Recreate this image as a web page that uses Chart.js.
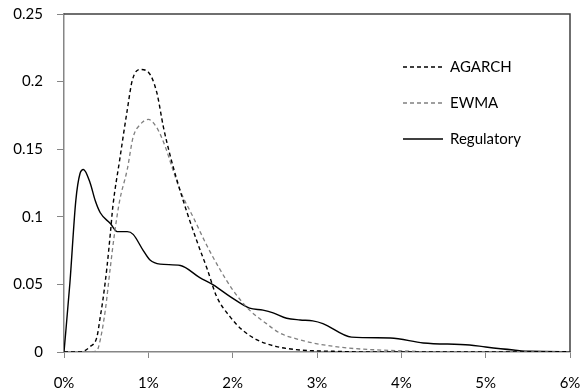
<!DOCTYPE html>
<html>
<head>
<meta charset="utf-8">
<script src="https://cdn.jsdelivr.net/npm/chart.js@4.4.1/dist/chart.umd.min.js"></script>
<style>
  html, body { margin:0; padding:0; background:#fff; }
  #wrap { position:relative; width:583px; height:392px; }
</style>
</head>
<body>
<div id="wrap"><canvas id="ch"></canvas></div>
<script>
// ── data (x in %, y = density) ─────────────────────────────────────────────
const agarchX = [0, 0.19, 0.31, 0.39, 0.43, 0.46, 0.51, 0.55, 0.58, 0.66, 0.75, 0.81, 0.90, 1.0, 1.10, 1.18, 1.26, 1.34, 1.46, 1.57, 1.70, 1.81, 1.97, 2.12, 2.29, 2.52, 2.8, 3.2, 3.6, 6.0];
const agarchY = [0, 0, 0.004, 0.011, 0.026, 0.038, 0.063, 0.088, 0.108, 0.142, 0.179, 0.201, 0.209, 0.207, 0.192, 0.166, 0.145, 0.127, 0.103, 0.083, 0.061, 0.041, 0.026, 0.016, 0.009, 0.004, 0.0015, 0.0005, 0, 0];

const ewmaX = [0, 0.3, 0.39, 0.43, 0.49, 0.55, 0.60, 0.66, 0.75, 0.82, 0.90, 1.0, 1.10, 1.20, 1.29, 1.38, 1.53, 1.70, 1.85, 2.0, 2.2, 2.4, 2.56, 2.8, 2.95, 3.36, 3.95, 4.5, 6.0];
const ewmaY = [0, 0, 0.001, 0.009, 0.031, 0.063, 0.088, 0.112, 0.135, 0.159, 0.168, 0.172, 0.166, 0.152, 0.135, 0.119, 0.100, 0.078, 0.061, 0.046, 0.031, 0.021, 0.014, 0.009, 0.0067, 0.003, 0.001, 0, 0];

const regX = [0, 0.07, 0.14, 0.19, 0.23, 0.31, 0.37, 0.43, 0.55, 0.63, 0.75, 0.82, 0.94, 1.02, 1.14, 1.38, 1.61, 1.77, 1.97, 2.2, 2.36, 2.48, 2.64, 2.8, 2.95, 3.07, 3.41, 3.87, 4.26, 4.81, 5.0, 5.33, 5.53, 6.0];
const regY = [0, 0.051, 0.112, 0.132, 0.135, 0.125, 0.112, 0.103, 0.095, 0.089, 0.089, 0.087, 0.075, 0.068, 0.065, 0.064, 0.055, 0.0496, 0.041, 0.0325, 0.031, 0.029, 0.025, 0.0237, 0.023, 0.021, 0.011, 0.0104, 0.0067, 0.0052, 0.0037, 0.0015, 0.0005, 0.0003];

const seriesNames = ['AGARCH', 'EWMA', 'Regulatory'];
const xTickLabels = ['0%', '1%', '2%', '3%', '4%', '5%', '6%'];
const yTickLabels = ['0', '0.05', '0.1', '0.15', '0.2', '0.25'];

const pts = (xs, ys) => xs.map((x, i) => ({ x, y: ys[i] }));
const FONT = { family: 'Lato, "Open Sans", sans-serif', size: 15 };

// frame on top / right + legend inside plot
const framePlugin = {
  id: 'frame',
  afterDraw(chart) {
    const { ctx, chartArea: a } = chart;
    ctx.save();
    ctx.strokeStyle = '#404040';
    ctx.lineWidth = 1.5;
    ctx.beginPath();
    ctx.moveTo(a.left, a.top); ctx.lineTo(a.right, a.top); ctx.lineTo(a.right, a.bottom);
    ctx.stroke();

    const rows = [67, 103, 139];
    chart.data.datasets.forEach((ds, i) => {
      const y = rows[i];
      ctx.strokeStyle = ds.borderColor;
      ctx.lineWidth = ds.borderWidth;
      ctx.setLineDash(ds.borderDash || []);
      ctx.beginPath(); ctx.moveTo(403, y); ctx.lineTo(443, y); ctx.stroke();
      ctx.setLineDash([]);
      ctx.fillStyle = '#000';
      ctx.font = FONT.size + 'px ' + FONT.family;
      ctx.textBaseline = 'middle';
      ctx.fillText(ds.label, 450, y);
    });
    ctx.restore();
  }
};

new Chart(document.getElementById('ch'), {
  type: 'line',
  data: {
    datasets: [
      { label: seriesNames[0], data: pts(agarchX, agarchY), borderColor: '#000', borderWidth: 1.4, borderDash: [4, 3] },
      { label: seriesNames[1], data: pts(ewmaX, ewmaY), borderColor: '#808080', borderWidth: 1.3, borderDash: [4, 3] },
      { label: seriesNames[2], data: pts(regX, regY), borderColor: '#000', borderWidth: 1.4 },
    ]
  },
  options: {
    responsive: true, maintainAspectRatio: false, animation: false,
    layout: { padding: { top: 14, right: 13, left: 0, bottom: 0 } },
    elements: { point: { radius: 0 }, line: { cubicInterpolationMode: 'monotone', fill: false } },
    plugins: { legend: { display: false }, tooltip: { enabled: false } },
    scales: {
      x: {
        type: 'linear', min: 0, max: 6,
        afterFit(s) { s.height = 40; s.paddingLeft = 0; s.paddingRight = 0; },
        border: { color: '#868686', width: 1.5 },
        grid: { drawOnChartArea: false, drawTicks: true, tickLength: 6, color: '#868686' },
        ticks: { stepSize: 1, color: '#000', font: FONT, padding: 16, maxRotation: 0,
                 callback: (v, i) => xTickLabels[i] }
      },
      y: {
        min: 0, max: 0.25,
        afterFit(s) { s.width = 64; s.paddingTop = 0; s.paddingBottom = 0; },
        border: { color: '#868686', width: 1.5 },
        grid: { drawOnChartArea: false, drawTicks: true, tickLength: 7, color: '#868686' },
        ticks: { stepSize: 0.05, color: '#000', font: FONT, padding: 14,
                 callback: (v, i) => yTickLabels[i] }
      }
    }
  },
  plugins: [framePlugin]
});
</script>
</body>
</html>
